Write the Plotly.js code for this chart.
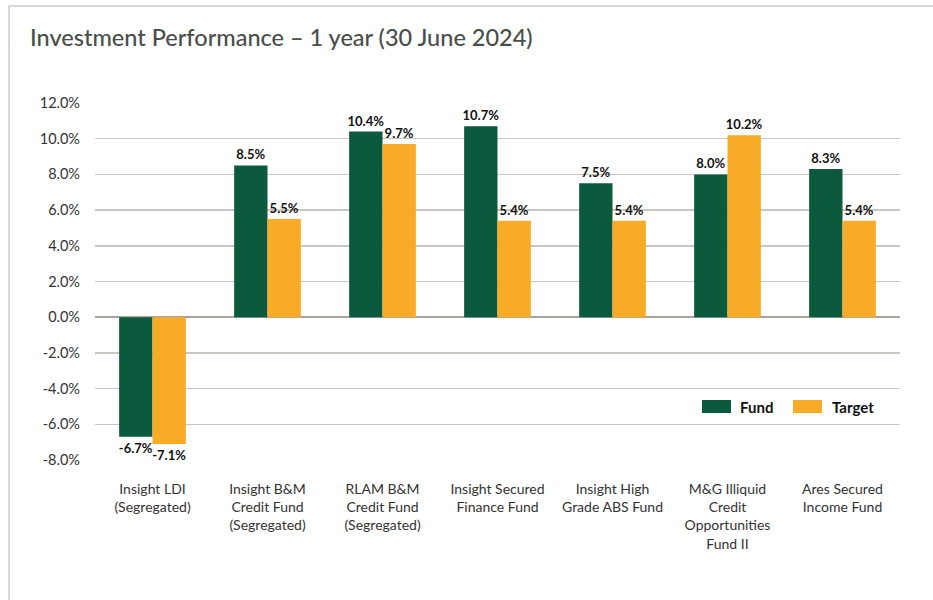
<!DOCTYPE html>
<html><head><meta charset="utf-8">
<script src="https://cdn.plot.ly/plotly-3.0.1.min.js"></script>
<style>
body{margin:0;background:#fff;}
#frame{position:absolute;left:8px;top:5px;width:925px;height:595px;border-top:2px solid #dcd7d3;border-left:2px solid #dcd7d3;box-sizing:border-box;pointer-events:none;z-index:5;}
#chart{position:absolute;left:0;top:0;width:933px;height:600px;}
</style></head>
<body>
<div id="chart"></div>
<div id="frame"></div>
<script>
const categories = [
  "Insight LDI<br>(Segregated)",
  "Insight B&M<br>Credit Fund<br>(Segregated)",
  "RLAM B&M<br>Credit Fund<br>(Segregated)",
  "Insight Secured<br>Finance Fund",
  "Insight High<br>Grade ABS Fund",
  "M&G Illiquid<br>Credit<br>Opportunities<br>Fund II",
  "Ares Secured<br>Income Fund"
];
const seriesNames = ["Fund", "Target"];
const fundValues = [-6.7, 8.5, 10.4, 10.7, 7.5, 8.0, 8.3];
const targetValues = [-7.1, 5.5, 9.7, 5.4, 5.4, 10.2, 5.4];
const tickValues = [-8, -6, -4, -2, 0, 2, 4, 6, 8, 10, 12];
const tickLabels = ["-8.0%", "-6.0%", "-4.0%", "-2.0%", "0.0%", "2.0%", "4.0%", "6.0%", "8.0%", "10.0%", "12.0%"];
const colors = ["#0b5a3d", "#f8ab27"];

const FONT = "Lato, 'Open Sans', sans-serif";
const labelFont = {family: FONT, size: 13, color: "#111", weight: "bold"};
const traces = [
  {type: "bar", name: seriesNames[0], x: categories, y: fundValues,
   marker: {color: colors[0]}, texttemplate: "%{y:.1f}%", textposition: "outside", constraintext: "none",
   textfont: labelFont, cliponaxis: false, hoverinfo: "none", showlegend: false},
  {type: "bar", name: seriesNames[1], x: categories, y: targetValues,
   marker: {color: colors[1]}, texttemplate: "%{y:.1f}%", textposition: "outside", constraintext: "none",
   textfont: labelFont, cliponaxis: false, hoverinfo: "none", showlegend: false}
];

// custom legend (wide swatches) in paper coordinates
const L = 95, W = 805, T = 103, H = 357;
const px = v => (v - L) / W;
const py = v => (T + H - v) / H;
const shapes = [
  {type: "rect", xref: "paper", yref: "paper", x0: px(702), x1: px(731), y0: py(413), y1: py(400), fillcolor: colors[0], line: {width: 0}},
  {type: "rect", xref: "paper", yref: "paper", x0: px(793), x1: px(822), y0: py(413), y1: py(400), fillcolor: colors[1], line: {width: 0}}
];
const annotations = [
  {xref: "paper", yref: "paper", x: px(738), y: py(406.5), xanchor: "left", yanchor: "middle", showarrow: false,
   text: seriesNames[0], font: {family: FONT, size: 15, color: "#111", weight: "bold"}},
  {xref: "paper", yref: "paper", x: px(830), y: py(406.5), xanchor: "left", yanchor: "middle", showarrow: false,
   text: seriesNames[1], font: {family: FONT, size: 15, color: "#111", weight: "bold"}}
];

const layout = {
  width: 933, height: 600,
  margin: {l: L, r: 933 - L - W, t: T, b: 600 - T - H},
  paper_bgcolor: "#fff", plot_bgcolor: "#fff",
  font: {family: FONT, color: "#333"},
  title: {text: "Investment Performance – 1 year (30 June 2024)",
    font: {family: FONT, size: 23.5, color: "#4a4e4b", weight: 500},
    x: 30/933, xanchor: "left", xref: "container", y: 1 - 38/600, yanchor: "middle", yref: "container"},
  barmode: "group", bargap: 0.42, bargroupgap: 0,
  xaxis: {tickfont: {size: 14, color: "#333"}, showline: false, ticks: "", fixedrange: true,
    automargin: false, ticklabelstandoff: 19},
  yaxis: {range: [-8, 12], tickmode: "array", tickvals: tickValues, ticktext: tickLabels,
    tickfont: {size: 14.5, color: "#333"}, gridcolor: "#ccc6c0", gridwidth: 1.5,
    zeroline: true, zerolinecolor: "#aaa39b", zerolinewidth: 2, showline: false, ticks: "",
    ticklabelstandoff: 14, automargin: false},
  showlegend: false,
  shapes: shapes,
  annotations: annotations
};
Plotly.newPlot("chart", traces, layout, {displayModeBar: false, staticPlot: true});
</script>
</body></html>
